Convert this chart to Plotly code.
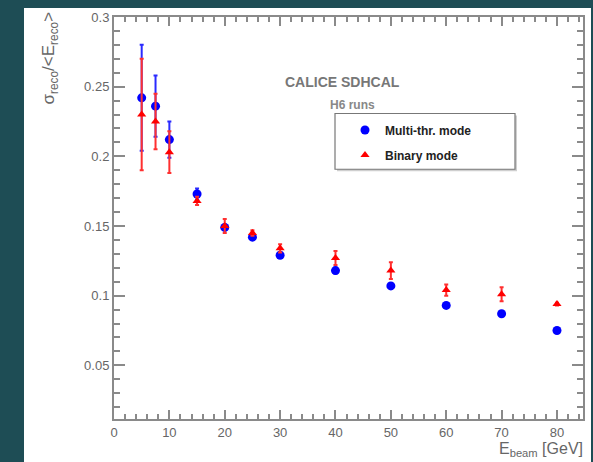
import plotly.graph_objects as go

energy = [5, 7.5, 10, 15, 20, 25, 30, 40, 50, 60, 70, 80]
multi_res = [0.242, 0.236, 0.212, 0.173, 0.149, 0.142, 0.129, 0.118, 0.107, 0.093, 0.087, 0.075]
multi_err = [0.038, 0.022, 0.013, 0.004, 0.002, 0.002, 0.002, 0.002, 0.002, 0.001, 0.001, 0.001]
binary_res = [0.230, 0.225, 0.203, 0.168, 0.150, 0.145, 0.134, 0.127, 0.118, 0.104, 0.101, 0.094]
binary_err = [0.040, 0.020, 0.015, 0.003, 0.005, 0.002, 0.003, 0.005, 0.006, 0.004, 0.005, 0.001]

x_range = [0, 84.7]
y_range = [0.0115, 0.3]

W, H = 593, 462
L, R, T, B = 114, 10, 15, 43
pw, ph = W - L - R, H - T - B


def px(x):
    return (x - L) / pw


def py(y):
    return 1 - (y - T) / ph


fig = go.Figure()
fig.add_trace(go.Scatter(
    x=energy, y=multi_res, mode="markers", name="<b>Multi-thr. mode</b>",
    legendgroup="a",
    marker=dict(symbol="circle", size=9, color="#0000ff"),
    error_y=dict(type="data", array=multi_err, color="#2a2aff", thickness=2, width=2),
))
fig.add_trace(go.Scatter(
    x=energy, y=binary_res, mode="markers", name="<b>Binary mode</b>",
    legendgroup="b",
    marker=dict(symbol="triangle-up", size=8, color="#ff0000"),
    error_y=dict(type="data", array=binary_err, color="#ff3030", thickness=2, width=2),
))
# invisible carrier trace so the mirrored (top/right) tick axes get drawn
fig.add_trace(go.Scatter(
    x=energy, y=multi_res, mode="markers", xaxis="x2", yaxis="y2",
    marker=dict(opacity=0), showlegend=False, hoverinfo="skip",
))

axcol = "#8a8a8a"
tickfont = dict(family="Liberation Sans, Arial, sans-serif", size=13, color="#666666")

common_x = dict(range=x_range, tick0=0, dtick=10, ticks="inside", ticklen=9, tickwidth=1.5,
                tickcolor=axcol, showline=True, linecolor=axcol, linewidth=2,
                showgrid=False, zeroline=False, tickfont=tickfont,
                minor=dict(ticks="inside", dtick=2, ticklen=5, tickwidth=1.5,
                           tickcolor=axcol, showgrid=False))
common_y = dict(range=y_range, tick0=0, dtick=0.05, ticks="inside", ticklen=11, tickwidth=1.5,
                tickcolor=axcol, showline=True, linecolor=axcol, linewidth=2,
                showgrid=False, zeroline=False, tickfont=tickfont, tickformat="~g",
                minor=dict(ticks="inside", dtick=0.01, ticklen=6, tickwidth=1.5,
                           tickcolor=axcol, showgrid=False))

shapes = [
    dict(type="rect", xref="paper", yref="paper", x0=px(24), x1=px(591), y0=py(470), y1=py(6),
         fillcolor="white", line=dict(width=0), layer="below"),
    dict(type="rect", xref="paper", yref="paper", x0=px(337), x1=px(517), y0=py(170), y1=py(114),
         fillcolor="#cfcfcf", line=dict(width=0), layer="below"),
    dict(type="rect", xref="paper", yref="paper", x0=px(335), x1=px(515), y0=py(168), y1=py(112),
         fillcolor="white", line=dict(width=1.2, color="#777777"), layer="below"),
]

annotations = [
    dict(text="<b>CALICE SDHCAL</b>", x=px(342), y=py(80), xref="paper", yref="paper",
         showarrow=False, xanchor="center", yanchor="middle",
         font=dict(family="Liberation Sans, Arial, sans-serif", size=14, color="#777777")),
    dict(text="<b>H6 runs</b>", x=px(352), y=py(103), xref="paper", yref="paper",
         showarrow=False, xanchor="center", yanchor="middle",
         font=dict(family="Liberation Sans, Arial, sans-serif", size=12, color="#888888")),
    dict(text="σ<sub>reco</sub>/<E<sub>reco</sub>>", x=px(50), y=py(8), xref="paper", yref="paper",
         showarrow=False, textangle=-90, xanchor="center", yanchor="top",
         font=dict(family="Liberation Sans, Arial, sans-serif", size=17, color="#666666")),
    dict(text="E<sub>beam</sub> [GeV]", x=px(585), y=py(450), xref="paper", yref="paper",
         showarrow=False, xanchor="right", yanchor="middle",
         font=dict(family="Liberation Sans, Arial, sans-serif", size=16, color="#666666")),
]

fig.update_layout(
    width=W, height=H, autosize=False,
    margin=dict(l=L, r=R, t=T, b=B),
    paper_bgcolor="#1e4d55", plot_bgcolor="white",
    shapes=shapes, annotations=annotations,
    showlegend=True,
    xaxis=dict(**common_x, ticklabelstandoff=0),
    yaxis=dict(**common_y),
    xaxis2=dict(**common_x, overlaying="x", side="top", showticklabels=False),
    yaxis2=dict(**common_y, overlaying="y", side="right", showticklabels=False),
    legend=dict(x=px(345), y=py(114), xanchor="left", yanchor="top",
                bgcolor="rgba(0,0,0,0)", borderwidth=0, tracegroupgap=6,
                traceorder="grouped",
                font=dict(family="Liberation Sans, Arial, sans-serif", size=12, color="#222222")),
)

fig.write_html("out.html")
